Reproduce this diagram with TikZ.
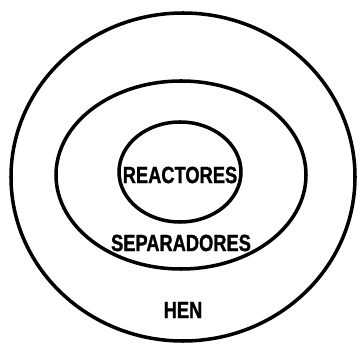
\documentclass[tikz,border=0pt]{standalone}
\usepackage{fontspec}
\setmainfont{Liberation Sans}[FakeStretch=0.78, BoldFeatures={FakeBold=1.2}]
\begin{document}
\begin{tikzpicture}[x=0.03cm, y=-0.03cm]
            \useasboundingbox (0,0) rectangle (359,345);
            \tikzset{ring/.style={line width=3pt}, lbl/.style={font=\fontsize{20}{22}\selectfont\bfseries, inner sep=0pt}}

            % 绘制三个椭圆
            \draw[ring] (183,177) ellipse [x radius=172, y radius=164];
            \draw[ring] (181,175) ellipse [x radius=125, y radius=94];
            \draw[ring] (180,172) ellipse [x radius=61, y radius=50];

            % 添加标签
            \node[lbl] (reactores) at (180,175) {REACTORES};
            \node[lbl] (separadores) at (181,243) {SEPARADORES};
            \node[lbl] (hen) at (183,310) {HEN};
        \end{tikzpicture}
\end{document}
